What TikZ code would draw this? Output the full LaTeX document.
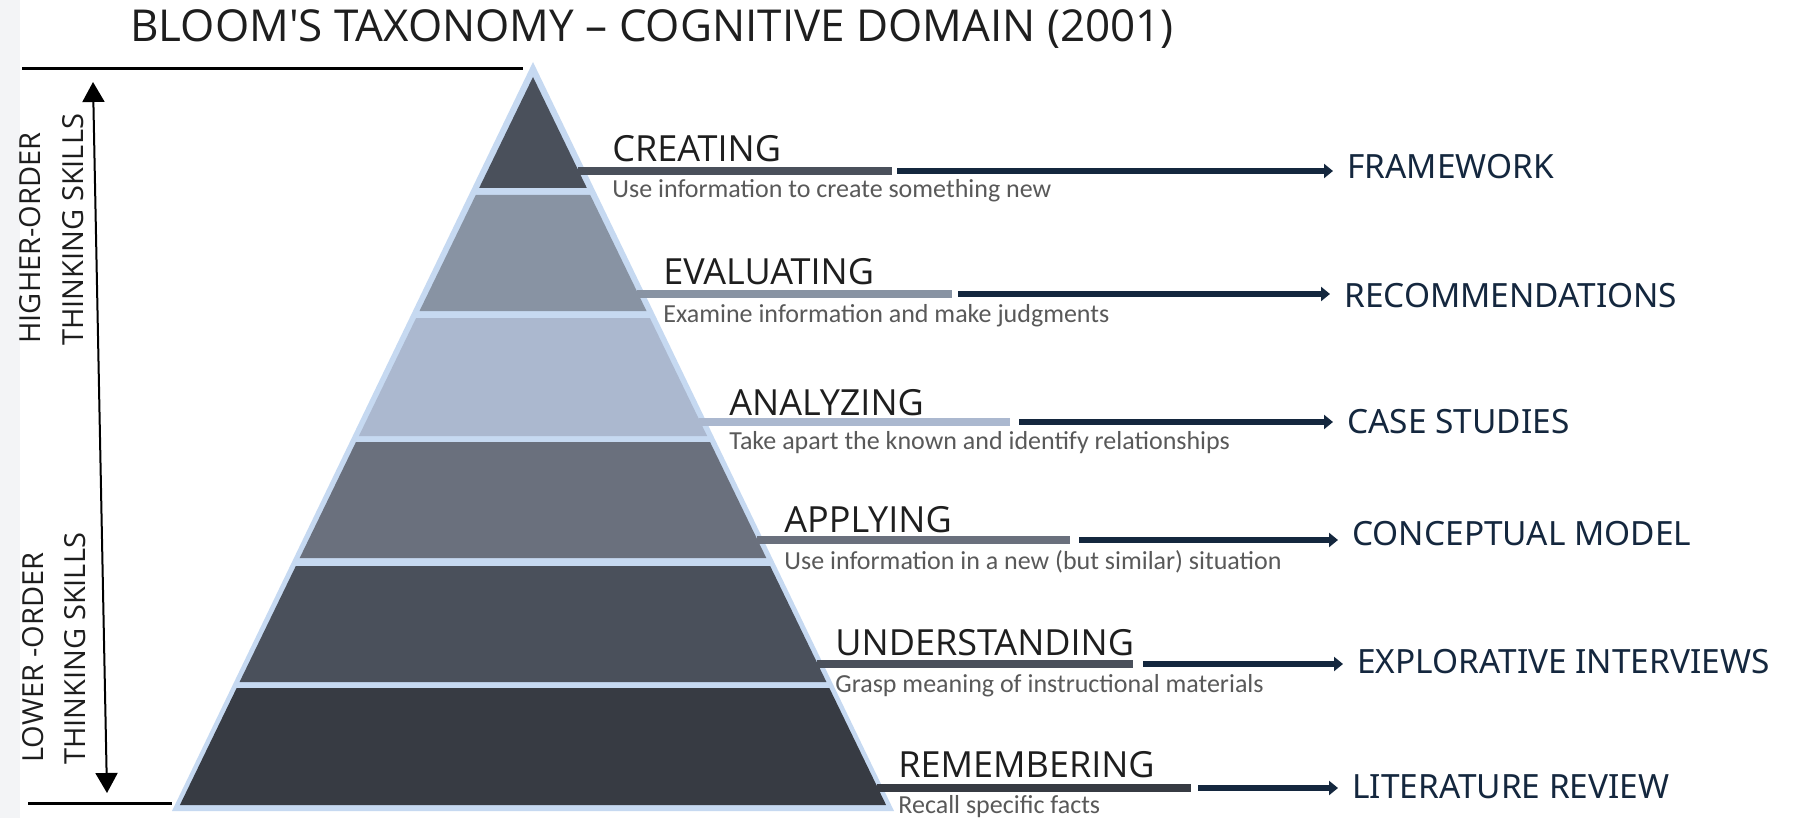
\documentclass[tikz,border=0pt]{standalone}
\usepackage{fontspec}
\setmainfont{Open Sans}
\newfontfamily\descfont{Carlito}
\newfontfamily\rfont{Noto Sans}
\usetikzlibrary{arrows.meta}
\definecolor{lb}{HTML}{C6D9F1}
\definecolor{cre}{HTML}{4A505B}
\definecolor{eva}{HTML}{8893A3}
\definecolor{ana}{HTML}{ABB8CF}
\definecolor{app}{HTML}{6A707D}
\definecolor{und}{HTML}{4A505B}
\definecolor{rem}{HTML}{373B43}
\definecolor{navy}{HTML}{14273E}
\definecolor{strip}{HTML}{F3F4F6}
\definecolor{desc}{HTML}{595959}
\definecolor{ink}{HTML}{1E1E1E}
\begin{document}
\begin{tikzpicture}[x=0.5pt,y=-0.5pt,
  lvl/.style={anchor=base west, inner sep=0pt, text=ink, font=\fontsize{18}{20}\selectfont},
  dsc/.style={anchor=base west, inner sep=0pt, text=desc, font=\descfont\fontsize{13}{15}\selectfont},
  outlbl/.style={anchor=base west, inner sep=0pt, text=navy, font=\rfont\fontsize{16.7}{19}\selectfont},
  side/.style={anchor=base west, inner sep=0pt, rotate=90, text=ink, font=\fontsize{14.5}{17}\selectfont},
  rulel/.style={line width=1.5pt, black},
  outarrow/.style={line width=3pt, navy, -{Triangle[length=4.5pt,width=7pt]}, shorten >=7pt},
  skillarrow/.style={line width=1pt, black, {Triangle[length=10pt,width=11pt]}-{Triangle[length=10pt,width=11pt]}}
]
\useasboundingbox (0,0) rectangle (1808,818);
\fill[white] (0,0) rectangle (1808,818);
\fill[strip] (0,0) rectangle (20,818);

\node[anchor=base west, inner sep=0pt, text=ink, font=\fontsize{22}{26}\selectfont] (title) at (130,42) {BLOOM\textquotesingle S TAXONOMY – COGNITIVE DOMAIN (2001)};

% pyramid outline
\fill[lb] (533,62) -- (894,811) -- (172,811) -- cycle;

\foreach \i/\yt/\yb/\c/\by/\bx/\ax in {1/77/188/cre/171/892/897, 2/195/311/eva/294/952/958, 3/318/436/ana/422/1010/1019, 4/442/558/app/540/1070/1079, 5/566/682/und/664/1133/1143, 6/688/805/rem/788/1191/1198}{
  \pgfmathsetmacro\hwt{0.485*(\yt-77)}
  \pgfmathsetmacro\hwb{0.485*(\yb-77)}
  \pgfmathsetmacro\hwm{0.485*(\by-77)}
  \fill[\c] (533-\hwt,\yt) -- (533+\hwt,\yt) -- (533+\hwb,\yb) -- (533-\hwb,\yb) -- cycle;
  \coordinate (bs\i) at (533+\hwm-1,\by);
  \coordinate (be\i) at (\bx,\by);
  \coordinate (as\i) at (\ax,\by);
  \draw[line width=4pt, \c] (bs\i) -- (be\i);
}

% level labels
\node[lvl] (p1) at (612,162) {CREATING};
\node[lvl] (p2) at (663,285) {EVALUATING};
\node[lvl] (p3) at (729,415) {ANALYZING};
\node[lvl] (p4) at (784,532) {APPLYING};
\node[lvl] (p5) at (835,655) {UNDERSTANDING};
\node[lvl] (p6) at (898,777) {REMEMBERING};

\node[dsc] (d1) at (612,198) {Use information to create something new};
\node[dsc] (d2) at (663,322) {Examine information and make judgments};
\node[dsc] (d3) at (729,449) {Take apart the known and identify relationships};
\node[dsc] (d4) at (784,569) {Use information in a new (but similar) situation};
\node[dsc] (d5) at (835,692) {Grasp meaning of instructional materials};
\node[dsc] (d6) at (898,813) {Recall specific facts};

% outputs
\node[outlbl] (r1) at (1347,179) {FRAMEWORK};
\node[outlbl] (r2) at (1344,307) {RECOMMENDATIONS};
\node[outlbl] (r3) at (1347,433) {CASE STUDIES};
\node[outlbl] (r4) at (1352,545) {CONCEPTUAL MODEL};
\node[outlbl] (r5) at (1357,673) {EXPLORATIVE INTERVIEWS};
\node[outlbl] (r6) at (1352,798) {LITERATURE REVIEW};

\foreach \i in {1,...,6}{
  \draw[outarrow] (as\i) -- (as\i -| r\i.west);
}

% left side
\coordinate (t1) at (22,69);
\coordinate (t2) at (523,69);
\draw[rulel] (t1) -- (t2);
\coordinate (u1) at (28,803);
\coordinate (u2) at (172,803);
\draw[rulel] (u1) -- (u2);
\coordinate (ha) at (93,82);
\coordinate (hb) at (107,793);
\draw[skillarrow] (ha) -- (hb);

\node[side] (h1) at (40,344) {HIGHER-ORDER};
\node[side] (h2) at (83,346) {THINKING SKILLS};
\node[side] (l1) at (43,763) {LOWER -ORDER};
\node[side] (l2) at (85,765) {THINKING SKILLS};
\end{tikzpicture}
\end{document}
